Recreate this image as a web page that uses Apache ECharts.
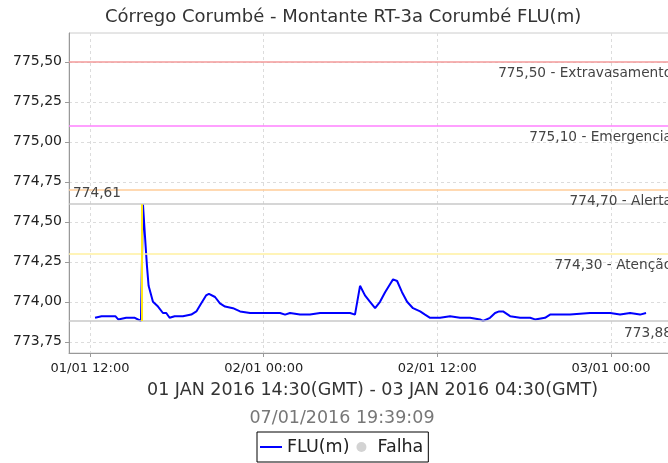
<!DOCTYPE html>
<html>
<head>
<meta charset="utf-8">
<title>FLU(m)</title>
<script src="https://cdn.jsdelivr.net/npm/echarts@6/dist/echarts.min.js"></script>
<style>
  html, body { margin: 0; padding: 0; overflow: hidden; background: #fff; }
  #main { width: 684px; height: 463px; }
</style>
</head>
<body>
<div id="main"></div>
<script>
// horas desde 01/01/2016 00:00
var hours = [12.35, 12.8, 13.15, 13.5, 13.75, 13.95, 14.5, 15.1, 15.52, 15.66, 15.8, 15.94, 16.05, 16.35, 16.7,
  17.04, 17.27, 17.5, 17.85, 18.42, 19.0, 19.35, 19.68, 20.02, 20.22, 20.64, 20.98, 21.33, 21.88, 22.37, 23.06,
  24.09, 25.13, 25.48, 25.82, 26.51, 27.2, 27.9, 28.59, 29.28, 29.97, 30.31, 30.66, 31.0, 31.35, 31.7, 32.04,
  32.39, 32.73, 32.94, 33.22, 33.56, 33.91, 34.32, 34.81, 35.15, 35.5, 36.19, 36.88, 37.57, 38.26, 38.95, 39.16,
  39.64, 39.99, 40.27, 40.54, 41.03, 41.72, 42.41, 42.75, 43.44, 43.79, 44.48, 45.17, 46.55, 47.94, 48.63,
  49.32, 50.01, 50.42];
var flu = [773.90, 773.91, 773.91, 773.91, 773.91, 773.89, 773.90, 773.90, 773.88, 774.61, 774.41, 774.22, 774.10, 774.00, 773.97,
  773.93, 773.93, 773.90, 773.91, 773.91, 773.92, 773.94, 773.99, 774.04, 774.05, 774.03, 773.99, 773.97, 773.96, 773.94, 773.93,
  773.93, 773.93, 773.92, 773.93, 773.92, 773.92, 773.93, 773.93, 773.93, 773.93, 773.92, 774.10, 774.04, 774.00, 773.96, 774.00,
  774.06, 774.11, 774.14, 774.13, 774.06, 774.00, 773.96, 773.94, 773.92, 773.90, 773.90, 773.91, 773.90, 773.90, 773.89, 773.88,
  773.90, 773.93, 773.94, 773.94, 773.91, 773.90, 773.90, 773.89, 773.90, 773.92, 773.92, 773.92, 773.93, 773.93, 773.92,
  773.93, 773.92, 773.93];

var xTickHours = [12, 24, 36, 48];
var xTickLabels = ["01/01 12:00", "02/01 00:00", "02/01 12:00", "03/01 00:00"];
var yTicks = [773.75, 774.0, 774.25, 774.5, 774.75, 775.0, 775.25, 775.5];

var limites = [775.5, 775.1, 774.7, 774.3];
var limiteNomes = ["Extravasamento", "Emergencia", "Alerta", "Atenção"];
var limiteCores = ["#f39a9a", "#ff80ff", "#ffcc99", "#fff0a0"];

var valorMax = 774.61;
var valorMin = 773.88;
var falhaHora = 15.57;

function fmt(v) {
  return v.toFixed(2).replace(".", ",");
}

var data = hours.map(function (h, i) { return [h, flu[i]]; });

var markData = limites.map(function (v, i) {
  return {
    yAxis: v,
    lineStyle: { color: limiteCores[i], type: "solid", width: 1.5 },
    label: { position: "insideEndBottom", formatter: fmt(v) + " - " + limiteNomes[i] }
  };
});
markData.push({
  yAxis: valorMax,
  lineStyle: { color: "#c8c8c8", type: "solid", width: 1.5 },
  label: { position: "insideStartTop", formatter: fmt(valorMax), distance: 4 }
});
markData.push({
  yAxis: valorMin,
  lineStyle: { color: "#c8c8c8", type: "solid", width: 1.5 },
  label: { position: "insideEndBottom", formatter: fmt(valorMin) }
});
markData.push([
  { coord: [falhaHora, valorMin], lineStyle: { color: "#ffe81a", type: "solid", width: 2 }, label: { show: false } },
  { coord: [falhaHora, valorMax] }
]);

var myChart = echarts.init(document.getElementById("main"));
myChart.setOption({
  animation: false,
  textStyle: { fontFamily: "DejaVu Sans" },
  title: [
    {
      text: "Córrego Corumbé - Montante RT-3a Corumbé FLU(m)",
      left: 105,
      top: 8,
      padding: 0,
      textStyle: { fontSize: 18, fontWeight: "normal", color: "#333" }
    },
    {
      // centrado sob a área do gráfico
      text: "01 JAN 2016 14:30(GMT) - 03 JAN 2016 04:30(GMT)",
      left: 147,
      top: 381,
      padding: 0,
      textStyle: { fontSize: 17.5, fontWeight: "normal", color: "#333" }
    },
    {
      text: "07/01/2016 19:39:09",
      left: "center",
      top: 409,
      padding: 0,
      textStyle: { fontSize: 17.5, fontWeight: "normal", color: "#777" }
    }
  ],
  legend: {
    top: 432,
    left: 257,
    data: [
      { name: "FLU(m)", icon: "path://M0,0H44V4H0Z" },
      { name: "Falha", icon: "circle" }
    ],
    borderColor: "#000",
    borderWidth: 1,
    borderRadius: 0,
    padding: [6, 5, 6, 3],
    itemGap: 7,
    itemWidth: 22,
    itemHeight: 10,
    textStyle: { fontSize: 17.5, color: "#222" }
  },
  grid: {
    left: 69,
    right: 7,
    top: 33,
    bottom: 110,
    show: true,
    borderColor: "#cccccc",
    borderWidth: 1
  },
  xAxis: {
    type: "value",
    min: 10.55,
    max: 52.56,
    axisLine: { lineStyle: { color: "#999" } },
    axisTick: { customValues: xTickHours, length: 4, lineStyle: { color: "#999" } },
    axisLabel: {
      customValues: xTickHours,
      fontSize: 13,
      color: "#222",
      margin: 9,
      formatter: function (v) { return xTickLabels[xTickHours.indexOf(v)]; }
    },
    splitLine: { show: true, customValues: xTickHours, lineStyle: { color: "#dcdcdc", type: [3, 3] } }
  },
  yAxis: {
    type: "value",
    min: 773.68,
    max: 775.68,
    axisLine: { show: true, lineStyle: { color: "#999" } },
    axisTick: { show: true, customValues: yTicks, length: 4, lineStyle: { color: "#999" } },
    axisLabel: {
      customValues: yTicks,
      fontSize: 14,
      color: "#222",
      margin: 7,
      formatter: function (v) { return fmt(v); }
    },
    splitLine: { show: true, customValues: yTicks, lineStyle: { color: "#dcdcdc", type: [3, 3] } }
  },
  series: [
    {
      name: "FLU(m)",
      type: "line",
      data: data,
      symbol: "none",
      color: "#0000ff",
      lineStyle: { color: "#0000ff", width: 2 },
      z: 3,
      markLine: {
        silent: true,
        symbol: "none",
        animation: false,
        label: { fontSize: 13.7, color: "#444" },
        data: markData
      }
    },
    {
      name: "Falha",
      type: "scatter",
      data: [],
      color: "#c8c8c8"
    }
  ]
});
</script>
</body>
</html>
